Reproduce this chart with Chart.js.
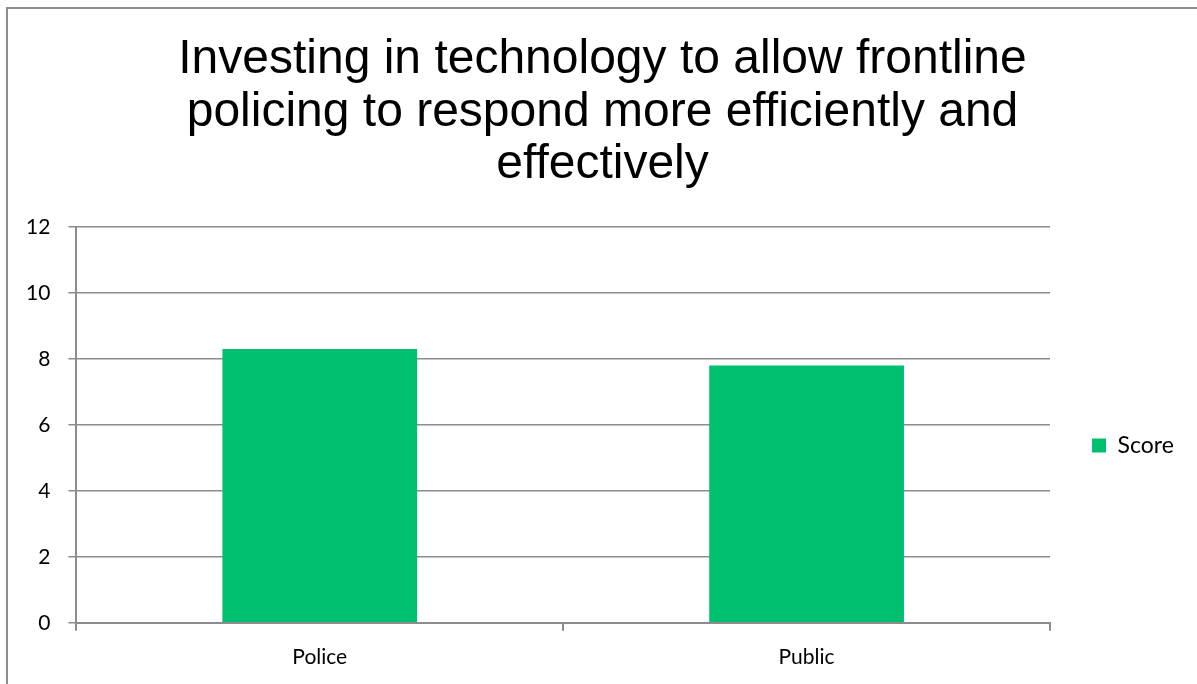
<!DOCTYPE html>
<html>
<head>
<meta charset="utf-8">
<script src="https://cdn.jsdelivr.net/npm/chart.js@4"></script>
<style>
    body { margin: 0; background: #fff; }
    #wrap { position: relative; width: 1197px; height: 684px; overflow: hidden; }
    #frame {
        position: absolute; left: 6px; top: 7px; width: 1200px; height: 700px;
        border: 2px solid #8c8c8c; pointer-events: none;
    }
    canvas { position: absolute; left: 0; top: 0; }
</style>
</head>
<body>
<div id="wrap">
    <canvas id="chart" width="1197" height="684"></canvas>
    <div id="frame"></div>
</div>
<script>
// chart data
const categories = ['Police', 'Public'];
const scores = [8.3, 7.8];
const seriesLabel = 'Score';
const titleLines = [
    'Investing in technology to allow frontline',
    'policing to respond more efficiently and',
    'effectively'
];
const yMin = 0;
const yMax = 12;
const yStep = 2;

const green = 'rgb(0, 191, 111)';
const gridGrey = '#8c8c8c';
const labelFont = { family: 'Lato, "Open Sans", sans-serif', size: 21 };
const legendFont = { family: 'Lato, "Open Sans", sans-serif', size: 23 };

// widen the right-hand legend box so the plot ends where the original does
const legendWidthPlugin = {
    id: 'legendWidth',
    beforeInit(chart) {
        const origFit = chart.legend.fit;
        chart.legend.fit = function () {
            origFit.call(this);
            this.width = 147;
        };
    }
};

const ctx = document.getElementById('chart').getContext('2d');

new Chart(ctx, {
    type: 'bar',
    data: {
        labels: categories,
        datasets: [{
            label: seriesLabel,
            data: scores,
            backgroundColor: green,
            borderWidth: 0,
            barPercentage: 0.4,
            categoryPercentage: 1.0
        }]
    },
    plugins: [legendWidthPlugin],
    options: {
        responsive: false,
        animation: false,
        layout: {
            padding: { left: 8, right: 0, bottom: 0, top: 0 }
        },
        plugins: {
            title: {
                display: true,
                text: titleLines,
                color: '#000',
                font: { family: '"Liberation Sans", Arial, sans-serif', size: 48, weight: 'normal', lineHeight: 1.09 },
                padding: { top: 34, bottom: 36 }
            },
            legend: {
                position: 'right',
                fullSize: false,
                // blank legend title just nudges the entry down a little
                title: { display: true, text: ' ', padding: { top: 0, bottom: 27 }, font: { size: 12 } },
                labels: {
                    boxWidth: 14,
                    boxHeight: 14,
                    padding: 42,
                    color: '#000',
                    font: legendFont
                }
            },
            tooltip: { enabled: false }
        },
        scales: {
            x: {
                grid: {
                    display: true,
                    offset: true,
                    drawOnChartArea: false,
                    drawTicks: true,
                    tickLength: 8,
                    color: gridGrey,
                    lineWidth: 2
                },
                border: { color: gridGrey, width: 2 },
                ticks: {
                    color: '#000',
                    font: labelFont,
                    padding: 14
                }
            },
            y: {
                min: yMin,
                max: yMax,
                grid: {
                    color: gridGrey,
                    lineWidth: 1.5,
                    drawTicks: true,
                    tickLength: 8
                },
                border: { color: gridGrey, width: 2 },
                ticks: {
                    stepSize: yStep,
                    color: '#000',
                    font: labelFont,
                    padding: 18
                }
            }
        }
    }
});
</script>
</body>
</html>
